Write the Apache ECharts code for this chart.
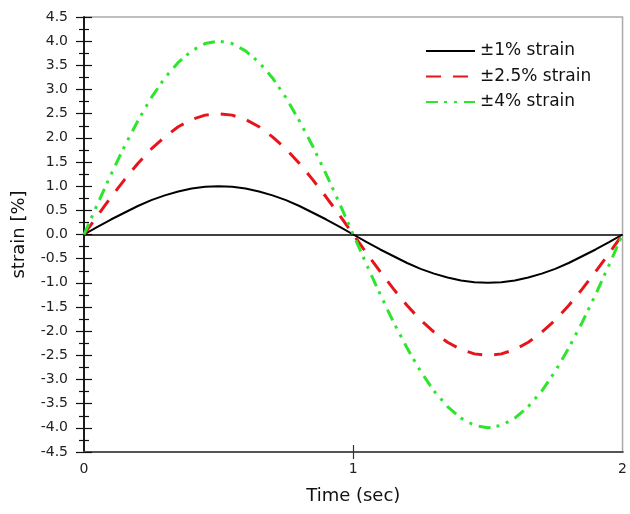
<!DOCTYPE html>
<html>
<head>
<meta charset="utf-8">
<script src="https://cdn.jsdelivr.net/npm/echarts@6/dist/echarts.min.js"></script>
<style>
html,body{margin:0;padding:0;background:#fff;}
#chart{width:630px;height:514px;}
</style>
</head>
<body>
<div id="chart"></div>
<script>
var time = [0,0.05,0.1,0.15,0.2,0.25,0.3,0.35,0.4,0.45,0.5,0.55,0.6,0.65,0.7,0.75,0.8,0.85,0.9,0.95,1.0,
            1.05,1.1,1.15,1.2,1.25,1.3,1.35,1.4,1.45,1.5,1.55,1.6,1.65,1.7,1.75,1.8,1.85,1.9,1.95,2.0];
var strain1 = [0,0.16,0.31,0.45,0.59,0.71,0.81,0.89,0.95,0.99,1.00,0.99,0.95,0.89,0.81,0.71,0.59,0.45,0.31,0.16,0.00,
               -0.16,-0.31,-0.45,-0.59,-0.71,-0.81,-0.89,-0.95,-0.99,-1.00,-0.99,-0.95,-0.89,-0.81,-0.71,-0.59,-0.45,-0.31,-0.16,0.00];
var strain25 = [0,0.39,0.77,1.13,1.47,1.77,2.02,2.23,2.38,2.47,2.50,2.47,2.38,2.23,2.02,1.77,1.47,1.13,0.77,0.39,0.00,
                -0.39,-0.77,-1.13,-1.47,-1.77,-2.02,-2.23,-2.38,-2.47,-2.50,-2.47,-2.38,-2.23,-2.02,-1.77,-1.47,-1.13,-0.77,-0.39,0.00];
var strain4 = [0,0.63,1.24,1.82,2.35,2.83,3.24,3.56,3.80,3.95,4.00,3.95,3.80,3.56,3.24,2.83,2.35,1.82,1.24,0.63,0.00,
               -0.63,-1.24,-1.82,-2.35,-2.83,-3.24,-3.56,-3.80,-3.95,-4.00,-3.95,-3.80,-3.56,-3.24,-2.83,-2.35,-1.82,-1.24,-0.63,0.00];
var seriesNames = ['\u00b11% strain', '\u00b12.5% strain', '\u00b14% strain'];
var xTickValues = [1];
var xTitle = 'Time (sec)';
var yTitle = 'strain [%]';

function zip(xs, ys){ return xs.map(function(x,i){ return [x, ys[i]]; }); }

var FONT = 'DejaVu Sans';
var chart = echarts.init(document.getElementById('chart'), null, {renderer:'canvas'});

var yBase = {
  type:'value', min:-4.5, max:4.5, interval:0.5, position:'left',
  splitLine:{show:false},
  axisLine:{show:true, onZero:false, lineStyle:{color:'#111', width:1.5}},
  minorTick:{show:true, splitNumber:2, length:5, lineStyle:{color:'#111', width:1.2}},
  axisTick:{show:true, length:8, lineStyle:{color:'#111', width:1.2}}
};
var xBase = {
  type:'value', min:0, max:2, interval:1, position:'bottom',
  splitLine:{show:false},
  axisLine:{show:true, onZero:false, lineStyle:{color:'#555', width:2}},
  axisTick:{show:true, length:7, customValues:xTickValues, lineStyle:{color:'#333', width:1.2}}
};

var option = {
  animation:false,
  backgroundColor:'#fff',
  grid:{left:84, right:6, top:17, bottom:62, show:true, borderColor:'#aaa', borderWidth:1.5, backgroundColor:'transparent'},
  legend:{
    orient:'vertical', left:425, top:42, padding:0,
    itemWidth:49, itemHeight:14, itemGap:7.5,
    itemStyle:{opacity:0},
    textStyle:{fontFamily:FONT, fontSize:17, color:'#111', lineHeight:18},
    data:seriesNames
  },
  xAxis:[
    Object.assign({}, xBase, {
      name:xTitle, nameLocation:'middle', nameGap:35,
      nameTextStyle:{fontFamily:FONT, fontSize:18, color:'#111'},
      axisTick:Object.assign({}, xBase.axisTick, {inside:false}),
      axisLabel:{show:true, margin:10, fontFamily:FONT, fontSize:14, color:'#222'}
    }),
    Object.assign({}, xBase, {
      axisTick:Object.assign({}, xBase.axisTick, {inside:true}),
      axisLabel:{show:false}
    })
  ],
  yAxis:[
    Object.assign({}, yBase, {
      name:yTitle, nameLocation:'middle', nameGap:56,
      nameTextStyle:{fontFamily:FONT, fontSize:18, color:'#111'},
      axisTick:Object.assign({}, yBase.axisTick, {inside:false}),
      axisLabel:{show:true, margin:16, fontFamily:FONT, fontSize:14, color:'#222',
        formatter:function(v){ return v.toFixed(1); }}
    }),
    Object.assign({}, yBase, {
      axisTick:Object.assign({}, yBase.axisTick, {inside:true}),
      axisLabel:{show:false}
    })
  ],
  series:[
    {
      name:seriesNames[0], type:'line', xAxisIndex:0, yAxisIndex:0,
      data:zip(time, strain1), symbol:'none', smooth:false, z:3,
      lineStyle:{color:'#000', width:2, type:'solid'},
      itemStyle:{color:'#000'},
      markLine:{silent:true, symbol:'none', label:{show:false},
        lineStyle:{color:'#000', width:1.5, type:'solid'},
        data:[{yAxis:0}]}
    },
    {
      name:seriesNames[1], type:'line', xAxisIndex:0, yAxisIndex:0,
      data:zip(time, strain25), symbol:'none', smooth:false, z:4,
      lineStyle:{color:'#e8141c', width:3, type:[15,12]},
      itemStyle:{color:'#e8141c'}
    },
    {
      name:seriesNames[2], type:'line', xAxisIndex:0, yAxisIndex:0,
      data:zip(time, strain4), symbol:'none', smooth:false, z:5,
      lineStyle:{color:'#2ee52e', width:3, type:[12,6,3,7,3,7]},
      itemStyle:{color:'#2ee52e'}
    }
  ]
};
chart.setOption(option);
</script>
</body>
</html>
